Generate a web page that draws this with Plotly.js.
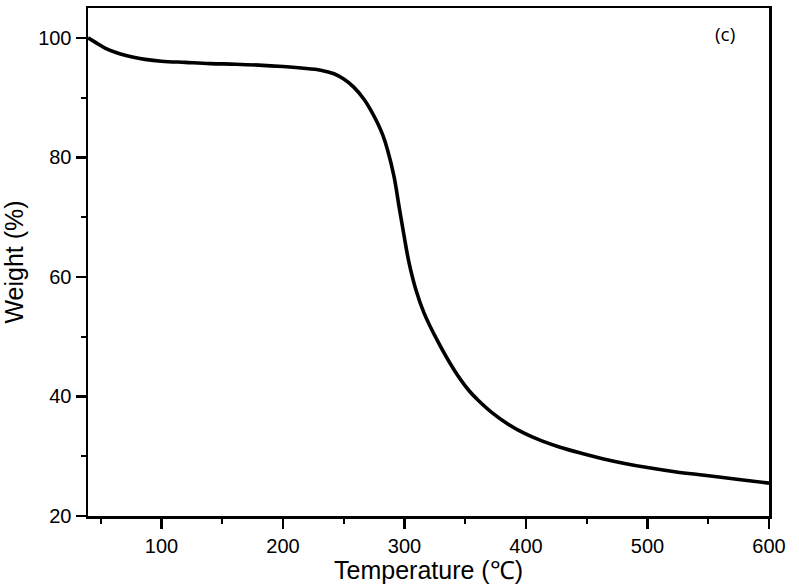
<!DOCTYPE html>
<html>
<head>
<meta charset="utf-8">
<script src="https://cdn.plot.ly/plotly-3.0.1.min.js"></script>
<style>html,body{margin:0;padding:0;background:#fff;}#chart{width:799px;height:584px;}</style>
</head>
<body>
<div id="chart"></div>
<script>
const temperature = [39.5, 46, 53.5, 62, 70, 78, 86.5, 100, 119.5, 140, 161, 180, 200, 215, 231, 242, 250, 258, 266.8, 272, 277.7, 282, 286, 291.4, 295.5, 299.7, 303.8, 309.3, 316.2, 327.2, 341, 353, 360, 372, 385, 398, 412.5, 428, 445.5, 463, 481.2, 500, 522.4, 543, 563.7, 582, 600];
const weight = [100, 99.2, 98.3, 97.6, 97.1, 96.7, 96.4, 96.1, 95.9, 95.7, 95.6, 95.45, 95.2, 94.95, 94.6, 94.0, 93.1, 91.8, 89.7, 88.0, 85.8, 83.8, 81.3, 76.8, 71.8, 66.8, 62.3, 57.9, 53.9, 49.3, 44.4, 41.0, 39.5, 37.3, 35.4, 33.9, 32.6, 31.5, 30.5, 29.6, 28.8, 28.1, 27.4, 26.9, 26.4, 25.95, 25.5];
const xTicks = [100, 200, 300, 400, 500, 600];
const yTicks = [20, 40, 60, 80, 100];
const panelLabel = '(c)';

const axisFont = {family: 'Liberation Sans, Arial, sans-serif', size: 20, color: '#000'};
const titleFont = {family: 'Liberation Sans, Arial, sans-serif', size: 25, color: '#000'};

Plotly.newPlot('chart', [{
  x: temperature, y: weight, mode: 'lines', type: 'scatter',
  line: {color: '#000', width: 3.6, shape: 'spline', smoothing: 1},
  showlegend: false, hoverinfo: 'skip'
}], {
  width: 799, height: 584,
  margin: {l: 88, r: 30, t: 8, b: 68},
  paper_bgcolor: '#fff', plot_bgcolor: '#fff',
  xaxis: {
    range: [39.5, 600], tickvals: xTicks, ticktext: xTicks.map(String),
    showgrid: false, zeroline: false,
    showline: true, linecolor: '#000', linewidth: 2.5, mirror: true,
    ticks: 'outside', ticklen: 10, tickwidth: 2.5, tickcolor: '#000',
    minor: {dtick: 50, tick0: 0, ticks: 'outside', ticklen: 5, tickwidth: 2, tickcolor: '#000', showgrid: false},
    tickfont: axisFont,
    title: {text: 'Temperature (℃)', font: titleFont, standoff: 8},
    automargin: false
  },
  yaxis: {
    range: [20, 105], tickvals: yTicks, ticktext: yTicks.map(String),
    showgrid: false, zeroline: false,
    showline: true, linecolor: '#000', linewidth: 2.5, mirror: true,
    ticks: 'outside', ticklen: 10, tickwidth: 2.5, tickcolor: '#000',
    minor: {dtick: 10, tick0: 0, ticks: 'outside', ticklen: 5, tickwidth: 2, tickcolor: '#000', showgrid: false},
    tickfont: axisFont,
    title: {text: 'Weight (%)', font: titleFont, standoff: 10},
    automargin: false
  },
  annotations: [{
    x: 564, y: 100.6, xref: 'x', yref: 'y', text: panelLabel, showarrow: false,
    font: {family: 'Open Sans, Noto Sans, sans-serif', size: 19, color: '#000'}
  }]
}, {staticPlot: true, displayModeBar: false});
</script>
</body>
</html>
